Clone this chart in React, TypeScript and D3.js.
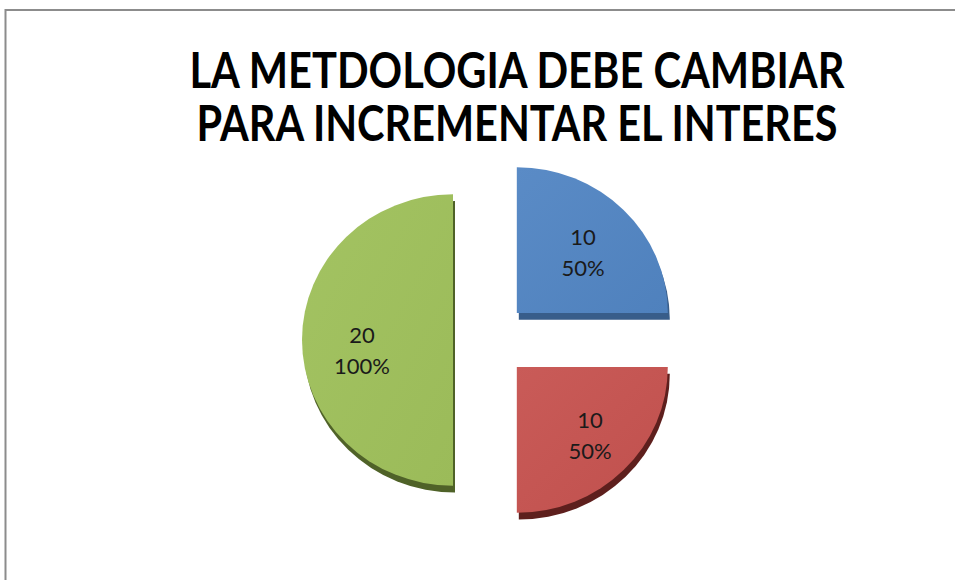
import React from "react";
import * as d3 from "d3";

const categories = ["A", "B", "C"];
const values = [10, 10, 20];
const labelTop = ["10", "10", "20"];
const labelBottom = ["50%", "50%", "100%"];
const titleLines = ["LA METDOLOGIA DEBE CAMBIAR", "PARA INCREMENTAR EL INTERES"];

const colors = ["#4F81BD", "#C0504D", "#9BBB59"];
const lightColors = ["#5A8BC6", "#C95B58", "#A3C362"];
const darkColors = ["#385D8A", "#5E1F1D", "#4F6228"];

export default function App() {
  const W = 955, H = 580;
  const cx = 485, cy = 340;
  const r = 151;
  const yScale = 0.965;
  const explode = 45;

  const pie = d3.pie<number>().sort(null).startAngle(0).endAngle(2 * Math.PI);
  const arcs = pie(values);
  const arc = d3.arc<d3.PieArcDatum<number>>().innerRadius(0).outerRadius(r);

  const labelPos = [
    [583, 237],
    [590, 420],
    [362, 335],
  ];

  return (
    <svg width={W} height={H} style={{ position: "absolute", left: 0, top: 0 }}>
      <defs>
        {colors.map((c, i) => (
          <linearGradient key={i} id={`g${i}`} x1="0" y1="0" x2="1" y2="1">
            <stop offset="0%" stopColor={lightColors[i]} />
            <stop offset="100%" stopColor={c} />
          </linearGradient>
        ))}
      </defs>
      <rect x={0} y={0} width={W} height={H} fill="#fff" />
      <rect x={5.5} y={10} width={1000} height={1000} fill="none" stroke="#8c8c8c" strokeWidth={2} />
      {titleLines.map((t, i) => (
        <text
          key={i}
          x={517}
          y={88 + i * 53}
          textAnchor="middle"
          fontFamily="Lato, 'Open Sans', sans-serif"
          fontWeight="bold"
          fontSize={50}
          textLength={i === 0 ? 655 : 641}
          lengthAdjust="spacingAndGlyphs"
          fill="#000"
        >
          {t}
        </text>
      ))}
      {arcs.map((a, i) => {
        const mid = (a.startAngle + a.endAngle) / 2;
        const dx = Math.sin(mid) * (i === 2 ? 32 : explode);
        const dy = -Math.cos(mid) * explode * 0.85;
        return (
          <g key={categories[i]} transform={`translate(${cx + dx},${cy + dy}) scale(1,${yScale})`}>
            <path d={arc(a) || ""} transform="translate(2,7)" fill={darkColors[i]} />
            <path d={arc(a) || ""} fill={`url(#g${i})`} />
          </g>
        );
      })}
      {arcs.map((a, i) => (
        <text
          key={"l" + i}
          x={labelPos[i][0]}
          y={labelPos[i][1]}
          textAnchor="middle"
          fontFamily="Lato, 'Open Sans', sans-serif"
          fontSize={22}
          fill="#1a1a1a"
        >
          <tspan x={labelPos[i][0]} dy="0.35em">{labelTop[i]}</tspan>
          <tspan x={labelPos[i][0]} dy="1.42em">{labelBottom[i]}</tspan>
        </text>
      ))}
    </svg>
  );
}
